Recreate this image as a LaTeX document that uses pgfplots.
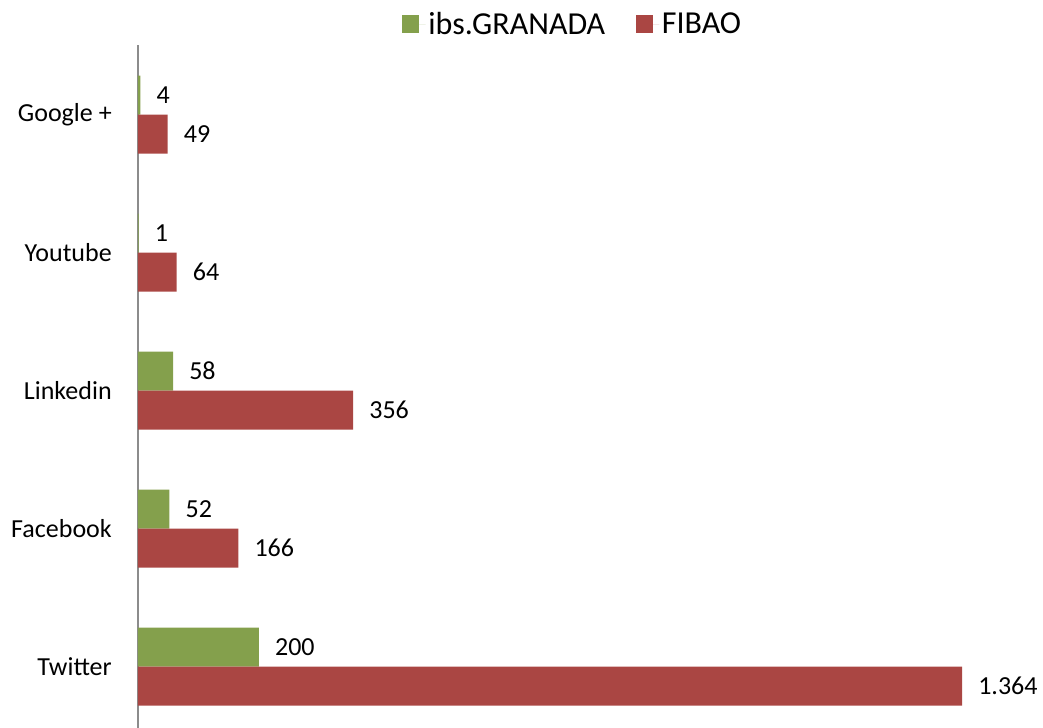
\documentclass[border=0pt]{standalone}
\usepackage{pgfplots}
\pgfplotsset{compat=1.18}
\usepackage{fontspec}
\setmainfont{Carlito}
\definecolor{cgreen}{RGB}{132,160,76}
\definecolor{cred}{RGB}{170,70,67}
\begin{document}
\begin{tikzpicture}
\path[use as bounding box] (-103.5pt,0pt) rectangle (678.75pt,546pt);
\begin{axis}[
  at={(0pt,0pt)}, anchor=south west,
  scale only axis, width=678.75pt, height=512.25pt,
  xmin=0, xmax=1498, ymin=-0.445, ymax=4.505,
  axis y line=left, axis x line=none,
  axis line style={-, draw=gray!90, line width=1.3pt},
  ytick={0,1,2,3,4},
  yticklabels={Twitter,Facebook,Linkedin,Youtube,Google +},
  major tick length=0pt,
  yticklabel style={anchor=east, inner sep=0pt, xshift=-19.5pt, font=\fontsize{19.5}{22}\selectfont},
  xbar, bar width=0.283,
  clip=false,
  nodes near coords,
  /pgf/number format/assume math mode=true,
  /pgf/number format/1000 sep={.},
  every node near coord/.append style={anchor=west, inner sep=0pt, xshift=12pt, font=\fontsize{19.5}{22}\selectfont, text=black},
  legend columns=2,
  legend style={draw=none, at={(axis description cs:0.4807,1.0307)}, anchor=center,
    font=\fontsize{24}{26}\selectfont, inner sep=0pt,
    /tikz/every even column/.append style={column sep=21pt}},
  legend image code/.code={\fill[#1] (0pt,-6.4pt) rectangle (12.8pt,6.4pt); \path (0pt,0pt) -- (17.5pt,0pt);},
]
\addplot[fill=cgreen, draw=none, bar shift=0.141] coordinates {(200,0) (52,1) (58,2) (1,3) (4,4)};
\addplot[fill=cred, draw=none, bar shift=-0.141] coordinates {(1364,0) (166,1) (356,2) (64,3) (49,4)};
\legend{ibs.GRANADA, FIBAO}
\end{axis}
\end{tikzpicture}
\end{document}
